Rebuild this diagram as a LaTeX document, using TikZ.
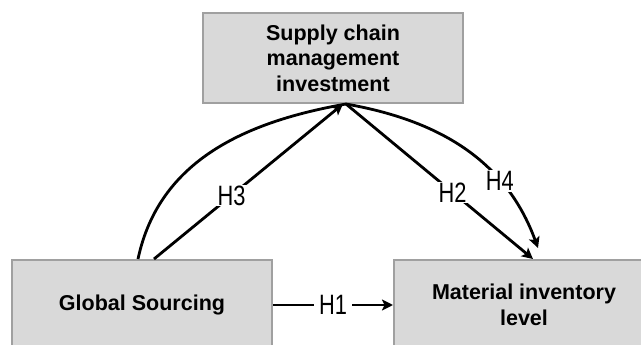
\documentclass[tikz,border=0pt]{standalone}
\usepackage{fontspec}
\setmainfont{Liberation Sans}
\newfontfamily\narrowfont[FakeStretch=0.78]{Liberation Sans}
\usetikzlibrary{arrows.meta,calc}
\definecolor{boxfill}{HTML}{D9D9D9}
\definecolor{boxline}{HTML}{A0A0A0}
\begin{document}
\begin{tikzpicture}[x=1pt,y=-1pt,
  box/.style={draw=boxline,line width=2pt,fill=boxfill,minimum width=260pt,minimum height=90pt,inner sep=0pt,align=center,font=\fontsize{21.5}{25.5}\selectfont\bfseries},
  link/.style={line width=2.8pt,-{Stealth[length=11pt,width=11pt,inset=2.5pt]}},
  plain/.style={line width=2.8pt},
  hlab/.style={fill=white,inner xsep=5pt,inner ysep=1pt,font=\narrowfont\fontsize{28}{28}\selectfont}]
\useasboundingbox (0,0) rectangle (641,345);
\clip (0,0) rectangle (641,345);
\node[box] (scm) at (333,58) {Supply chain\\management\\investment};
\node[box] (gs) at (142,305) {Global Sourcing};
\node[box] (mil) at (524,305) {Material inventory\\level};
\coordinate (gsA) at ($(gs.north)+(-4,0)$);
\coordinate (gsB) at ($(gs.north)+(12,0)$);
\coordinate (scmA) at ($(scm.south)+(10,0)$);
\coordinate (scmB) at ($(scm.south)+(13,0)$);
\coordinate (milA) at ($(mil.north)+(9,0)$);
\coordinate (milB) at ($(mil.north)+(14,-11)$);
\draw[link] (gs.east) -- node[hlab]{H1} (mil.west);
\draw[link] (gsB) -- node[hlab,pos=0.41]{H3} (scmA);
\draw[link] (scmB) -- node[hlab,pos=0.57]{H2} (milA);
\draw[plain] (gsA) to[out=78,in=190] (scmB);
\draw[link] (scmB) to[out=-10,in=110] node[hlab,pos=0.7]{H4} (milB);
\end{tikzpicture}
\end{document}
